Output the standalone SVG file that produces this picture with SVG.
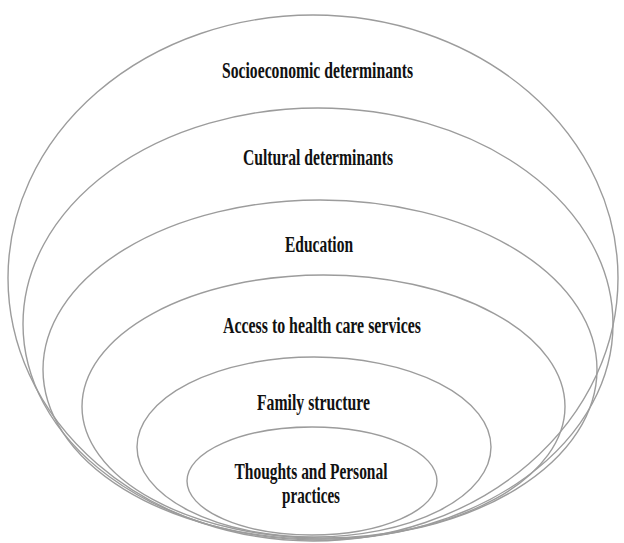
<svg xmlns="http://www.w3.org/2000/svg" width="624" height="543" viewBox="0 0 624 543">
  <style>
    .ring { fill: none; stroke: #9c9c9c; stroke-width: 1.4; }
    .lbl { font-family: "Liberation Serif", "Times New Roman", serif; font-weight: bold; font-size: 24px; fill: #111; text-anchor: middle; }
  </style>
  <rect width="624" height="543" fill="#ffffff"/>
  <g id="socioeconomic">
    <ellipse class="ring" cx="313" cy="278" rx="305" ry="263"/>
    <text class="lbl" x="317.5" y="78" textLength="191" lengthAdjust="spacingAndGlyphs">Socioeconomic determinants</text>
  </g>
  <g id="cultural">
    <ellipse class="ring" cx="318" cy="324" rx="295" ry="216"/>
    <text class="lbl" x="318" y="165" textLength="150" lengthAdjust="spacingAndGlyphs">Cultural determinants</text>
  </g>
  <g id="education">
    <ellipse class="ring" cx="320" cy="369.5" rx="277" ry="169.5"/>
    <text class="lbl" x="319" y="252" textLength="68" lengthAdjust="spacingAndGlyphs">Education</text>
  </g>
  <g id="access">
    <ellipse class="ring" cx="323.5" cy="406.5" rx="241.5" ry="131.5"/>
    <text class="lbl" x="322" y="333" textLength="198" lengthAdjust="spacingAndGlyphs">Access to health care services</text>
  </g>
  <g id="family">
    <ellipse class="ring" cx="314" cy="447" rx="177" ry="90"/>
    <text class="lbl" x="313.5" y="410" textLength="113" lengthAdjust="spacingAndGlyphs">Family structure</text>
  </g>
  <g id="thoughts">
    <ellipse class="ring" cx="312" cy="481" rx="125" ry="54"/>
    <text class="lbl" x="311" y="479" textLength="153" lengthAdjust="spacingAndGlyphs">Thoughts and Personal</text>
    <text class="lbl" x="311" y="503" textLength="58" lengthAdjust="spacingAndGlyphs">practices</text>
  </g>
  <g id="connectors"/>
</svg>
